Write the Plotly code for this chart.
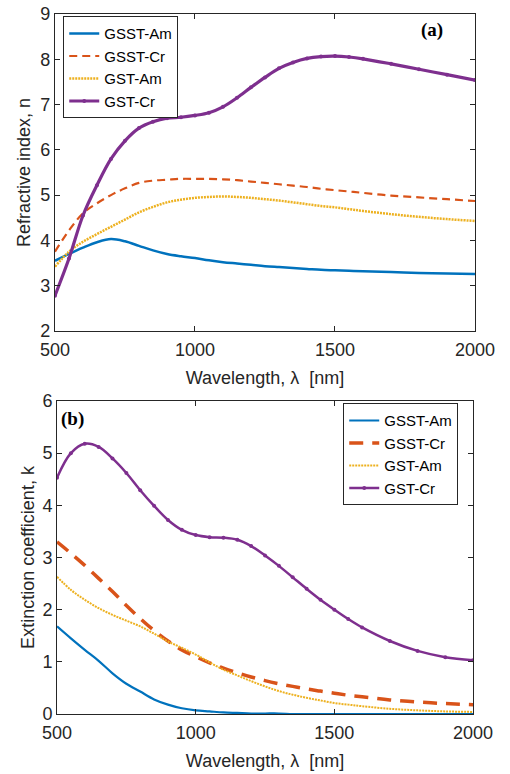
import plotly.graph_objects as go

# ---------------- data ----------------
wl = [500, 550, 600, 650, 700, 750, 800, 850, 900, 950, 1000, 1050, 1100, 1150,
      1200, 1250, 1300, 1350, 1400, 1450, 1500, 1550, 1600, 1700, 1800, 1900, 2000]

n_gsst_am = [3.55, 3.70, 3.84, 3.96, 4.03, 3.98, 3.88, 3.78, 3.70, 3.65, 3.61, 3.56, 3.52, 3.49,
             3.46, 3.43, 3.41, 3.39, 3.37, 3.35, 3.34, 3.33, 3.32, 3.30, 3.28, 3.27, 3.26]
n_gsst_cr = [3.75, 4.22, 4.60, 4.82, 5.00, 5.15, 5.27, 5.32, 5.34, 5.36, 5.36, 5.36, 5.35, 5.33,
             5.30, 5.27, 5.24, 5.21, 5.18, 5.14, 5.11, 5.08, 5.05, 4.99, 4.95, 4.91, 4.87]
n_gst_am = [3.42, 3.75, 3.97, 4.14, 4.30, 4.46, 4.62, 4.74, 4.84, 4.90, 4.94, 4.96, 4.97, 4.96,
            4.94, 4.91, 4.88, 4.84, 4.80, 4.76, 4.73, 4.69, 4.65, 4.58, 4.52, 4.47, 4.43]
n_gst_cr = [2.78, 3.60, 4.55, 5.22, 5.80, 6.20, 6.48, 6.62, 6.70, 6.72, 6.76, 6.82, 6.95, 7.15,
            7.38, 7.60, 7.80, 7.93, 8.02, 8.06, 8.07, 8.05, 8.01, 7.90, 7.78, 7.66, 7.54]

k_gsst_am = [1.68, 1.45, 1.23, 1.02, 0.78, 0.58, 0.43, 0.28, 0.18, 0.11, 0.07, 0.05, 0.03, 0.02,
             0.01, 0.01, 0.01, 0.0, 0.0, 0.0, 0.0, 0.0, 0.0, 0.0, 0.0, 0.0, 0.0]
k_gsst_cr = [3.30, 3.08, 2.85, 2.60, 2.35, 2.08, 1.83, 1.60, 1.40, 1.23, 1.10, 0.98, 0.88, 0.79,
             0.71, 0.64, 0.58, 0.53, 0.48, 0.44, 0.40, 0.36, 0.33, 0.27, 0.23, 0.20, 0.18]
k_gst_am = [2.63, 2.38, 2.19, 2.03, 1.90, 1.79, 1.68, 1.54, 1.39, 1.27, 1.14, 0.99, 0.85, 0.74,
            0.63, 0.53, 0.44, 0.37, 0.31, 0.26, 0.21, 0.18, 0.15, 0.10, 0.07, 0.05, 0.04]
k_gst_cr = [4.53, 5.00, 5.18, 5.12, 4.90, 4.62, 4.29, 3.99, 3.72, 3.53, 3.43, 3.39, 3.38, 3.34,
            3.22, 3.04, 2.84, 2.62, 2.40, 2.19, 2.00, 1.82, 1.66, 1.40, 1.21, 1.09, 1.03]

names = ["GSST-Am", "GSST-Cr", "GST-Am", "GST-Cr"]

# ---------------- styles ----------------
blue, orange, yellow, purple = "#0072BD", "#D95319", "#EDB120", "#7E2F8E"
axcol = "#262626"
FONT = "Liberation Sans, Arial, sans-serif"
SERIF = "Liberation Serif, Times New Roman, serif"

fig = go.Figure()

def add(y, name, color, dash, width, xa, ya, legend, marker=False):
    fig.add_trace(go.Scatter(
        x=wl, y=y, name=name, xaxis=xa, yaxis=ya, legend=legend,
        mode="lines+markers" if marker else "lines",
        line=dict(color=color, dash=dash, width=width, shape="spline", smoothing=1.0),
        marker=dict(size=4, color=color) if marker else None,
    ))

add(n_gsst_am, names[0], blue, "solid", 2.5, "x", "y", "legend")
add(n_gsst_cr, names[1], orange, "8px,5px", 2.2, "x", "y", "legend")
add(n_gst_am, names[2], yellow, "2px,1px", 2.5, "x", "y", "legend")
add(n_gst_cr, names[3], purple, "solid", 3.2, "x", "y", "legend", marker=True)

add(k_gsst_am, names[0], blue, "solid", 2.2, "x2", "y2", "legend2")
add(k_gsst_cr, names[1], orange, "14px,9px", 3.5, "x2", "y2", "legend2")
add(k_gst_am, names[2], yellow, "2px,1px", 2, "x2", "y2", "legend2")
add(k_gst_cr, names[3], purple, "solid", 2.5, "x2", "y2", "legend2", marker=True)

def xaxis(domain, anchor, standoff_lbl):
    return dict(domain=domain, anchor=anchor, range=[500, 2000], automargin=False,
                tickvals=[500, 1000, 1500, 2000], ticks="inside", ticklen=5,
                tickcolor=axcol, showline=True, linecolor=axcol, linewidth=1,
                mirror="ticks", showgrid=False, zeroline=False,
                ticklabelstandoff=standoff_lbl,
                tickfont=dict(size=18, color=axcol, family=FONT),
                title=dict(text="Wavelength, λ  [nm]", standoff=12,
                           font=dict(size=18, color=axcol, family=FONT)))

def yaxis(domain, anchor, rng, dtick, title, standoff):
    return dict(domain=domain, anchor=anchor, range=rng, dtick=dtick, automargin=False,
                ticks="inside", ticklen=5, tickcolor=axcol, showline=True,
                linecolor=axcol, linewidth=1, mirror="ticks", showgrid=False,
                zeroline=False, tickfont=dict(size=18, color=axcol, family=FONT),
                title=dict(text=title, standoff=standoff,
                           font=dict(size=18, color=axcol, family=FONT)))

leg = dict(font=dict(size=15, color="#000000", family=FONT), bgcolor="white",
           bordercolor=axcol, borderwidth=1, tracegroupgap=0,
           itemwidth=30, yanchor="top", xanchor="left")

fig.update_layout(
    width=510, height=774, margin=dict(l=0, r=0, t=0, b=0),
    paper_bgcolor="white", plot_bgcolor="white",
    xaxis=xaxis([0.1078, 0.9314], "y", 2),
    yaxis=yaxis([0.5724, 0.9819], "x", [2, 9], 1, "Refractive index, n", 5),
    xaxis2=xaxis([0.1118, 0.9275], "y2", 2),
    yaxis2=yaxis([0.0775, 0.4819], "x2", [0, 6], 1, "Extinction coefficient, k", 3),
    legend=dict(leg, x=0.124, y=0.979),
    legend2=dict(leg, x=0.673, y=0.479),
    annotations=[
        dict(text="<b>(a)</b>", x=0.847, y=0.961, xref="paper", yref="paper",
             xanchor="center", yanchor="middle", showarrow=False,
             font=dict(size=19, family=SERIF, color="#000000")),
        dict(text="<b>(b)</b>", x=0.143, y=0.459, xref="paper", yref="paper",
             xanchor="center", yanchor="middle", showarrow=False,
             font=dict(size=19, family=SERIF, color="#000000")),
    ],
)

fig.write_html("out.html")
